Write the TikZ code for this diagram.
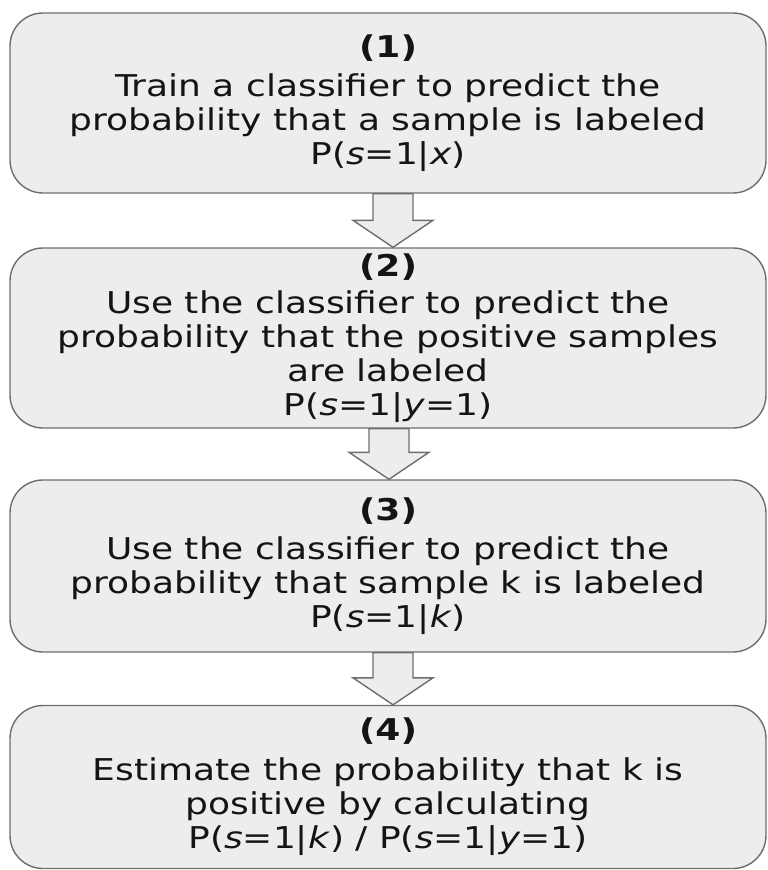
\documentclass[tikz,border=0pt]{standalone}
\usepackage{fontspec}
\setmainfont[FakeStretch=1.2]{DejaVu Sans}
\usetikzlibrary{calc}
\definecolor{boxfill}{HTML}{EDEDED}
\definecolor{boxline}{HTML}{6E6E6E}
\definecolor{ink}{HTML}{141414}
\tikzset{
  stepbox/.style={draw=boxline, fill=boxfill, line width=1.4pt, rounded corners=33pt,
    minimum width=756pt, align=center, inner sep=0pt, text=ink,
    font=\fontsize{30}{34}\selectfont},
  blockarrow/.style={draw=boxline, fill=boxfill, line width=1.4pt, line join=miter}
}
\newcommand\flowarrow[3]{%
  \draw[blockarrow] ($(#1.south)+(#3-20,0)$) -- ($(#2.north)+(#3-20,-27)$)
    -- ($(#2.north)+(#3-40,-27)$) -- ($(#2.north)+(#3,0)$)
    -- ($(#2.north)+(#3+40,-27)$) -- ($(#2.north)+(#3+20,-27)$)
    -- ($(#1.south)+(#3+20,0)$) -- cycle;}
\begin{document}
\begin{tikzpicture}[x=1pt,y=-1pt]
\useasboundingbox (0,0) rectangle (768,870);
\node[stepbox, minimum height=180pt] (b1) at (388,103)
  {\textbf{(1)}\\[5pt]Train a classifier to predict the\\probability that a sample is labeled\\P(\textit{s}=1|\textit{x})};
\node[stepbox, minimum height=180pt] (b2) at (388,338)
  {\textbf{(2)}\\[3pt]Use the classifier to predict the\\probability that the positive samples\\are labeled\\P(\textit{s}=1|\textit{y}=1)};
\node[stepbox, minimum height=172pt] (b3) at (388,566)
  {\textbf{(3)}\\[5pt]Use the classifier to predict the\\probability that sample k is labeled\\P(\textit{s}=1|\textit{k})};
\node[stepbox, minimum height=163pt] (b4) at (388,787)
  {\textbf{(4)}\\[6pt]Estimate the probability that k is\\positive by calculating\\P(\textit{s}=1|\textit{k}) / P(\textit{s}=1|\textit{y}=1)};
\flowarrow{b1}{b2}{5}
\flowarrow{b2}{b3}{1}
\flowarrow{b3}{b4}{5}
\end{tikzpicture}
\end{document}
